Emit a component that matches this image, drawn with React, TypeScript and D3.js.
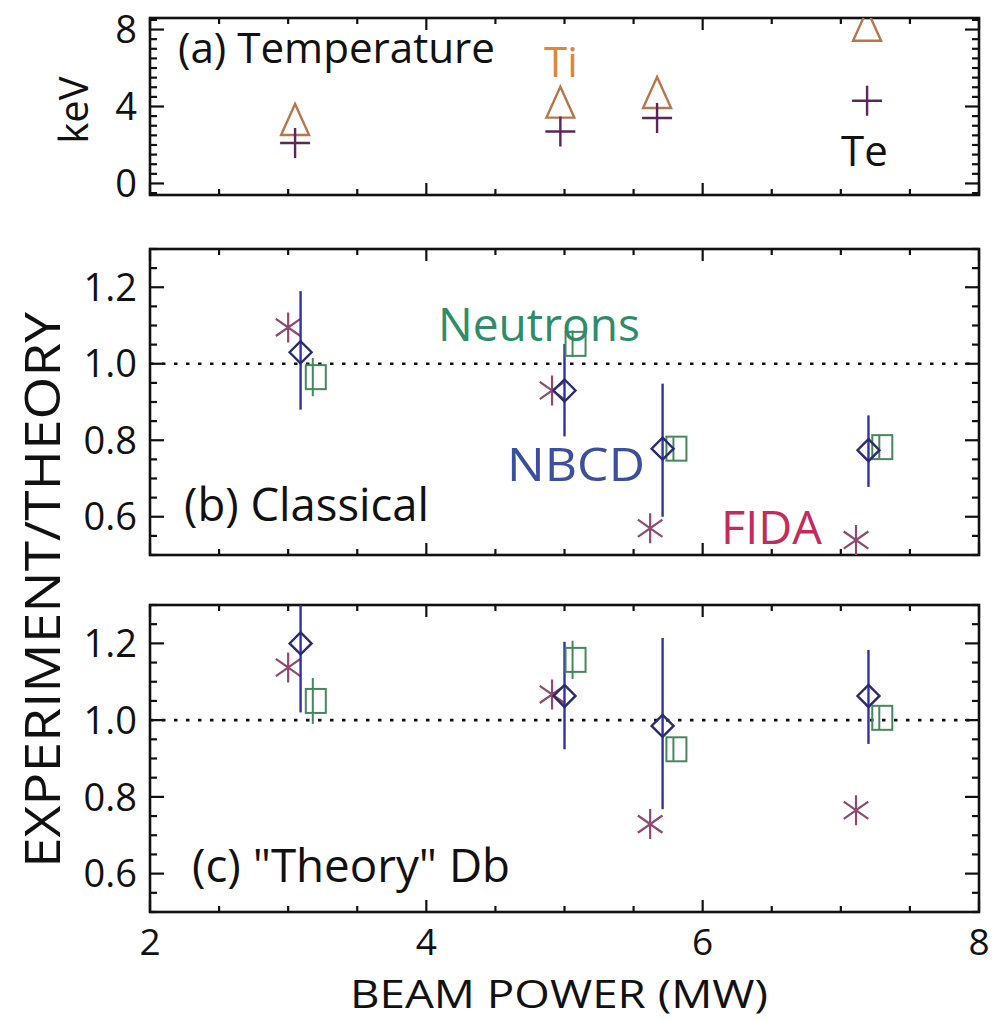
import React from "react";
import * as d3 from "d3";

// ---------- data ----------
const TEMP_X = [3.05, 4.97, 5.67, 7.19];
const TI_KEV = [3.3, 4.2, 4.7, 8.2];
const TE_KEV = [2.1, 2.7, 3.4, 4.3];

const NBCD_X = [3.09, 5.0, 5.71, 7.2];
const NEUT_X = [3.2, 5.08, 5.81, 7.3];
const FIDA_X = [3.0, 4.91, 5.62, 7.11];

// (b) Classical
const B_NBCD = [1.03, 0.93, 0.778, 0.774];
const B_NBCD_LO = [0.88, 0.81, 0.6, 0.678];
const B_NBCD_HI = [1.19, 1.052, 0.948, 0.865];
const B_NEUT = [0.965, 1.052, 0.778, 0.782];
const B_NEUT_ERR = [0.05, 0.035, 0.03, 0.03];
const B_FIDA = [1.095, 0.93, 0.57, 0.539];

// (c) "Theory" Db
const C_NBCD = [1.2, 1.063, 0.985, 1.063];
const C_NBCD_LO = [1.02, 0.924, 0.768, 0.938];
const C_NBCD_HI = [1.38, 1.204, 1.214, 1.183];
const C_NEUT = [1.05, 1.157, 0.924, 1.006];
const C_NEUT_ERR = [0.06, 0.05, 0.03, 0.03];
const C_FIDA = [1.137, 1.067, 0.729, 0.765];

const X_TICKS = [2, 4, 6, 8];
const TEMP_TICKS = [0, 4, 8];
const RATIO_TICKS = [0.6, 0.8, 1.0, 1.2];

// ---------- style ----------
const FONT = "'Open Sans', 'Noto Sans', sans-serif";
const COL = {
  ti: "#b5774f",
  tiText: "#d9883f",
  te: "#5a2758",
  neut: "#46875c",
  neutText: "#2f8c6b",
  nbcd: "#2b2b70",
  nbcdBar: "#3232a8",
  nbcdText: "#3c4f9c",
  fida: "#8c4a70",
  fidaText: "#c42b5c",
};

const W = 992;
const H = 1021;
const X0 = 150;
const X1 = 979;

const x = d3.scaleLinear().domain([2, 8]).range([X0, X1]);

type Panel = { top: number; bottom: number; y: d3.ScaleLinear<number, number> };

const pa: Panel = { top: 18, bottom: 195, y: d3.scaleLinear().domain([-0.6, 8.6]).range([195, 18]) };
const pb: Panel = { top: 249, bottom: 555, y: d3.scaleLinear().domain([0.5, 1.3]).range([555, 249]) };
const pc: Panel = { top: 605, bottom: 912, y: d3.scaleLinear().domain([0.5, 1.3]).range([912, 605]) };

function Frame({ p, yMinor, yMajor, yFmt, id }: { p: Panel; yMinor: number[]; yMajor: number[]; yFmt: (v: number) => string; id: string }) {
  const xMinor = d3.range(2, 8.001, 0.5);
  const isXMajor = (v: number) => Math.abs(v - Math.round(v / 2) * 2) < 1e-6;
  const isYMajor = (v: number) => yMajor.some((m) => Math.abs(m - v) < 1e-6);
  const sw = 2.2;
  return (
    <g>
      <clipPath id={id}>
        <rect x={X0} y={p.top} width={X1 - X0} height={p.bottom - p.top} />
      </clipPath>
      {xMinor.map((v, i) => {
        const L = isXMajor(v) ? 12 : 6;
        return (
          <g key={"xt" + i} stroke="#111" strokeWidth={sw}>
            <line x1={x(v)} x2={x(v)} y1={p.bottom} y2={p.bottom - L} />
            <line x1={x(v)} x2={x(v)} y1={p.top} y2={p.top + L} />
          </g>
        );
      })}
      {yMinor.map((v, i) => {
        const L = isYMajor(v) ? 14 : 7;
        const yy = p.y(v);
        return (
          <g key={"yt" + i} stroke="#111" strokeWidth={sw}>
            <line x1={X0} x2={X0 + L} y1={yy} y2={yy} />
            <line x1={X1} x2={X1 - L} y1={yy} y2={yy} />
          </g>
        );
      })}
      {yMajor.map((v, i) => (
        <text key={"yl" + i} x={X0 - 13} y={p.y(v)} dy="0.36em" textAnchor="end" fontFamily={FONT} fontSize={38} fill="#111">
          {yFmt(v)}
        </text>
      ))}
      <rect x={X0} y={p.top} width={X1 - X0} height={p.bottom - p.top} fill="none" stroke="#111" strokeWidth={2.6} />
    </g>
  );
}

function asterisk(cx: number, cy: number, r: number) {
  const a = (55 * Math.PI) / 180;
  const dx = r * Math.sin(a);
  const dy = r * Math.cos(a);
  return `M${cx},${cy - r}L${cx},${cy + r}M${cx - dx},${cy - dy}L${cx + dx},${cy + dy}M${cx - dx},${cy + dy}L${cx + dx},${cy - dy}`;
}

function RatioMarks({ p, nbcd, lo, hi, neut, nerr, fida, clip }: { p: Panel; nbcd: number[]; lo: number[]; hi: number[]; neut: number[]; nerr: number[]; fida: number[]; clip: string }) {
  const y = p.y;
  return (
    <g clipPath={`url(#${clip})`}>
      <line x1={X0} x2={X1} y1={y(1.0)} y2={y(1.0)} stroke="#111" strokeWidth={2.6} strokeDasharray="3.5 8.5" />
      {fida.map((v, i) => (
        <path key={"f" + i} d={asterisk(x(FIDA_X[i]), y(v), 15)} stroke={COL.fida} strokeWidth={2.2} fill="none" />
      ))}
      {nbcd.map((v, i) => (
        <line key={"e" + i} x1={x(NBCD_X[i])} x2={x(NBCD_X[i])} y1={y(lo[i])} y2={y(hi[i])} stroke={COL.nbcdBar} strokeWidth={2.4} />
      ))}
      {neut.map((v, i) => {
        const cx = x(NEUT_X[i]);
        const cy = y(v);
        return (
          <g key={"n" + i} stroke={COL.neut} strokeWidth={2} fill="none">
            <line x1={cx - 3} x2={cx - 3} y1={y(v - nerr[i])} y2={y(v + nerr[i])} />
            <rect x={cx - 10} y={cy - 12} width={20} height={24} />
          </g>
        );
      })}
      {nbcd.map((v, i) => {
        const cx = x(NBCD_X[i]);
        const cy = y(v);
        const r = 11;
        return (
          <path key={"d" + i} d={`M${cx},${cy - r}L${cx + r},${cy}L${cx},${cy + r}L${cx - r},${cy}Z`} stroke={COL.nbcd} strokeWidth={2.4} fill="none" />
        );
      })}
    </g>
  );
}

export default function App() {
  const yMinorA = d3.range(-0.5, 8.51, 0.5);
  const yMinorR = d3.range(0.5, 1.3001, 0.05);
  return (
    <svg width={W} height={H} viewBox={`0 0 ${W} ${H}`} style={{ display: "block", position: "absolute", left: 0, top: 0, background: "#fff" }}>
      <rect width={W} height={H} fill="#fff" />

      {/* Panel (a) */}
      <Frame p={pa} yMinor={yMinorA} yMajor={TEMP_TICKS} yFmt={(v) => String(v)} id="clipA" />
      <g clipPath="url(#clipA)">
        {TI_KEV.map((v, i) => {
          const cx = x(TEMP_X[i]);
          const cy = pa.y(v);
          return (
            <path key={"ti" + i} d={`M${cx - 14},${cy + 15}L${cx},${cy - 16}L${cx + 14},${cy + 15}Z`} stroke={COL.ti} strokeWidth={2.4} fill="none" />
          );
        })}
        {TE_KEV.map((v, i) => {
          const cx = x(TEMP_X[i]);
          const cy = pa.y(v);
          return (
            <path key={"te" + i} d={`M${cx - 15},${cy}L${cx + 15},${cy}M${cx},${cy - 15}L${cx},${cy + 15}`} stroke={COL.te} strokeWidth={2.4} fill="none" />
          );
        })}
      </g>
      <text x={178} y={63} fontFamily={FONT} fontSize={42} fill="#111" textLength={317} lengthAdjust="spacingAndGlyphs">(a) Temperature</text>
      <text x={544} y={77} fontFamily={FONT} fontSize={42} fill={COL.tiText}>Ti</text>
      <text x={841} y={166} fontFamily={FONT} fontSize={42} fill="#111">Te</text>
      <text transform="translate(88,110) rotate(-90)" textAnchor="middle" fontFamily={FONT} fontSize={40} fill="#111">keV</text>

      {/* Panel (b) */}
      <Frame p={pb} yMinor={yMinorR} yMajor={RATIO_TICKS} yFmt={(v) => v.toFixed(1)} id="clipB" />
      <RatioMarks p={pb} nbcd={B_NBCD} lo={B_NBCD_LO} hi={B_NBCD_HI} neut={B_NEUT} nerr={B_NEUT_ERR} fida={B_FIDA} clip="clipB" />
      <text x={438} y={341} fontFamily={FONT} fontSize={45} fill={COL.neutText} textLength={202} lengthAdjust="spacingAndGlyphs">Neutrons</text>
      <text x={507} y={481} fontFamily={FONT} fontSize={46} fill={COL.nbcdText} textLength={138} lengthAdjust="spacingAndGlyphs">NBCD</text>
      <text x={184} y={521} fontFamily={FONT} fontSize={45} fill="#111" textLength={245} lengthAdjust="spacingAndGlyphs">(b) Classical</text>
      <text x={721} y={544} fontFamily={FONT} fontSize={45} fill={COL.fidaText} textLength={101} lengthAdjust="spacingAndGlyphs">FIDA</text>

      {/* Panel (c) */}
      <Frame p={pc} yMinor={yMinorR} yMajor={RATIO_TICKS} yFmt={(v) => v.toFixed(1)} id="clipC" />
      <RatioMarks p={pc} nbcd={C_NBCD} lo={C_NBCD_LO} hi={C_NBCD_HI} neut={C_NEUT} nerr={C_NEUT_ERR} fida={C_FIDA} clip="clipC" />
      <text x={192} y={882} fontFamily={FONT} fontSize={45} fill="#111" textLength={318} lengthAdjust="spacingAndGlyphs">(c) "Theory" Db</text>

      {/* shared axis labels */}
      <text transform="translate(60,590) rotate(-90)" textAnchor="middle" fontFamily={FONT} fontSize={50} fill="#111" textLength={556} lengthAdjust="spacingAndGlyphs">EXPERIMENT/THEORY</text>
      {X_TICKS.map((v) => (
        <text key={"xl" + v} x={x(v)} y={955} textAnchor="middle" fontFamily={FONT} fontSize={37} fill="#111">{v}</text>
      ))}
      <text x={559} y={1008} textAnchor="middle" fontFamily={FONT} fontSize={38} fill="#111" textLength={418} lengthAdjust="spacingAndGlyphs">BEAM POWER (MW)</text>
    </svg>
  );
}
